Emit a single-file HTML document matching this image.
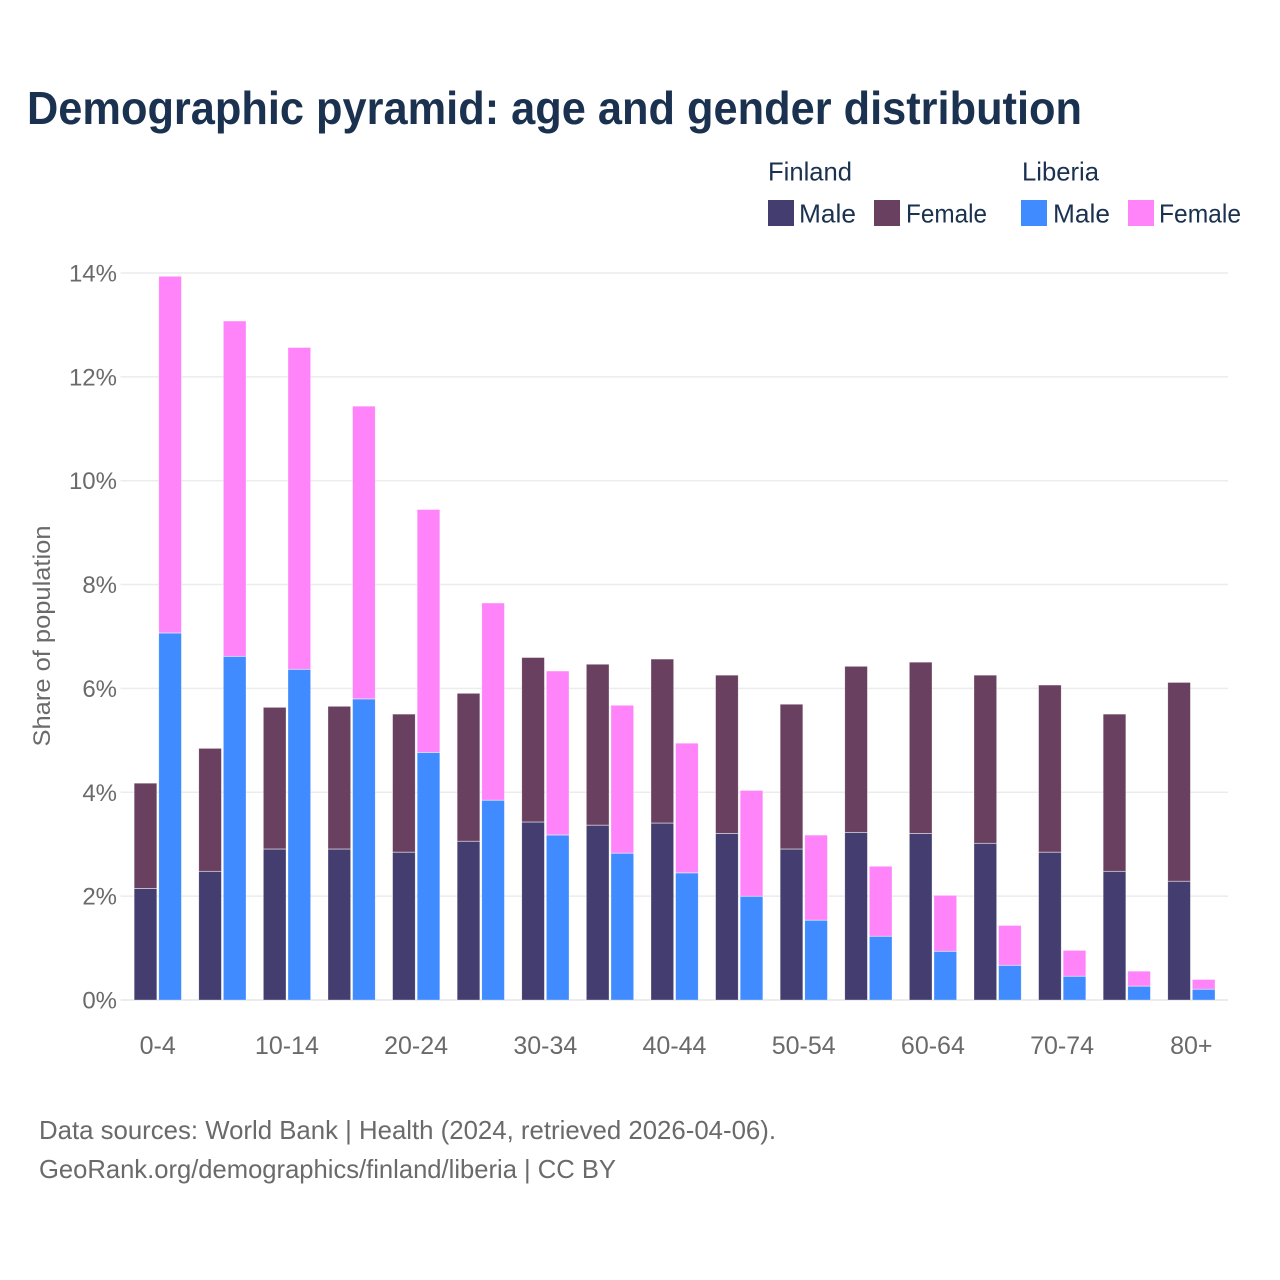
<!DOCTYPE html>
<html>
<head>
<meta charset="utf-8">
<title>Demographic pyramid</title>
<style>
html,body{margin:0;padding:0;background:#fff;}
svg{display:block;font-family:"Liberation Sans",sans-serif;}
</style>
</head>
<body>
<svg id="chart" width="1280" height="1280" viewBox="0 0 1280 1280" xmlns="http://www.w3.org/2000/svg">
<rect width="1280" height="1280" fill="#ffffff"/>
<text x="27" y="124" font-size="46" font-weight="700" fill="#1a3150" textLength="1055" lengthAdjust="spacingAndGlyphs">Demographic pyramid: age and gender distribution</text>

<g font-size="26" fill="#1a3150">
<text x="768" y="180.5" textLength="84" lengthAdjust="spacingAndGlyphs">Finland</text>
<text x="1022" y="180.5" textLength="77" lengthAdjust="spacingAndGlyphs">Liberia</text>
<rect x="768" y="200" width="26" height="26" fill="#433e6f"/>
<text x="799" y="222.5" textLength="57" lengthAdjust="spacingAndGlyphs">Male</text>
<rect x="874" y="200" width="26" height="26" fill="#69405f"/>
<text x="906" y="222.5" textLength="81" lengthAdjust="spacingAndGlyphs">Female</text>
<rect x="1021" y="200" width="26" height="26" fill="#3f8bff"/>
<text x="1053" y="222.5" textLength="57" lengthAdjust="spacingAndGlyphs">Male</text>
<rect x="1128" y="200" width="26" height="26" fill="#ff84f9"/>
<text x="1159" y="222.5" textLength="82" lengthAdjust="spacingAndGlyphs">Female</text>
</g>

<g id="grid"></g>
<g id="bars"></g>
<g id="ticks"></g>

<text transform="translate(50,636) rotate(-90)" text-anchor="middle" font-size="24" fill="#6a6a6a" textLength="221" lengthAdjust="spacingAndGlyphs">Share of population</text>

<g font-size="26" fill="#6a6a6a">
<text x="39" y="1139" textLength="737" lengthAdjust="spacingAndGlyphs">Data sources: World Bank | Health (2024, retrieved 2026-04-06).</text>
<text x="39" y="1178" textLength="577" lengthAdjust="spacingAndGlyphs">GeoRank.org/demographics/finland/liberia | CC BY</text>
</g>
</svg>
<script>
const categories = ["0-4","5-9","10-14","15-19","20-24","25-29","30-34","35-39","40-44","45-49","50-54","55-59","60-64","65-69","70-74","75-79","80+"];
const tickLabels = ["0-4","","10-14","","20-24","","30-34","","40-44","","50-54","","60-64","","70-74","","80+"];
const yTicks = [0,2,4,6,8,10,12,14];
const finlandMale = [2.15,2.48,2.91,2.91,2.85,3.06,3.43,3.37,3.41,3.21,2.91,3.23,3.21,3.02,2.85,2.48,2.29];
const finlandFemale = [2.03,2.37,2.73,2.75,2.66,2.85,3.17,3.10,3.16,3.05,2.79,3.20,3.30,3.24,3.22,3.03,3.83];
const liberiaMale = [7.07,6.62,6.37,5.80,4.77,3.85,3.18,2.83,2.45,2.00,1.54,1.23,0.94,0.67,0.46,0.27,0.21];
const liberiaFemale = [6.87,6.46,6.20,5.64,4.68,3.80,3.16,2.85,2.50,2.04,1.64,1.35,1.08,0.77,0.50,0.29,0.19];

const SVG_NS = "http://www.w3.org/2000/svg";
const plotLeft = 120.5, plotRight = 1228, bandStart = 125.7, bandStep = 64.6;
const y0 = 1000, pxPerUnit = 51.93;
const yScale = v => y0 - v * pxPerUnit;
const xScale = i => bandStart + i * bandStep;
const barW = 22.6, firstOffset = 8.5, secondOffset = 33.1;

const gridG = document.getElementById("grid");
const barsG = document.getElementById("bars");
const ticksG = document.getElementById("ticks");

function make(tag, attrs) {
  const el = document.createElementNS(SVG_NS, tag);
  for (const k in attrs) el.setAttribute(k, attrs[k]);
  return el;
}

yTicks.forEach(t => {
  const line = make("line", {x1: plotLeft, x2: plotRight, y1: yScale(t), y2: yScale(t), stroke: "#ececee", "stroke-width": t === 0 ? 2 : 1.5});
  
  
  gridG.appendChild(line);
  const label = make("text", {x: 117, y: yScale(t) + 8.5, "text-anchor": "end", "font-size": 24, fill: "#6a6a6a"});
  
  
  label.textContent = t + "%";
  ticksG.appendChild(label);
});

function bar(x, base, value, fill) {
  const top = yScale(base + value);
  const el = make("rect", {x: x, y: top + 0.3, width: barW, height: yScale(base) - top - 0.3, fill: fill, stroke: "#ffffff", "stroke-width": 0.6, "stroke-opacity": 0.5});
  
  
  barsG.appendChild(el);
}

categories.forEach((c, i) => {
  const x = xScale(i);
  bar(x + firstOffset, 0, finlandMale[i], "#433e6f");
  bar(x + firstOffset, finlandMale[i], finlandFemale[i], "#69405f");
  bar(x + secondOffset, 0, liberiaMale[i], "#3f8bff");
  bar(x + secondOffset, liberiaMale[i], liberiaFemale[i], "#ff84f9");
  if (tickLabels[i]) {
    const t = make("text", {x: x + 32, y: 1054, "text-anchor": "middle", "font-size": 25, fill: "#6a6a6a"});
    
    
    t.textContent = tickLabels[i];
    ticksG.appendChild(t);
  }
});
</script>
</body>
</html>
